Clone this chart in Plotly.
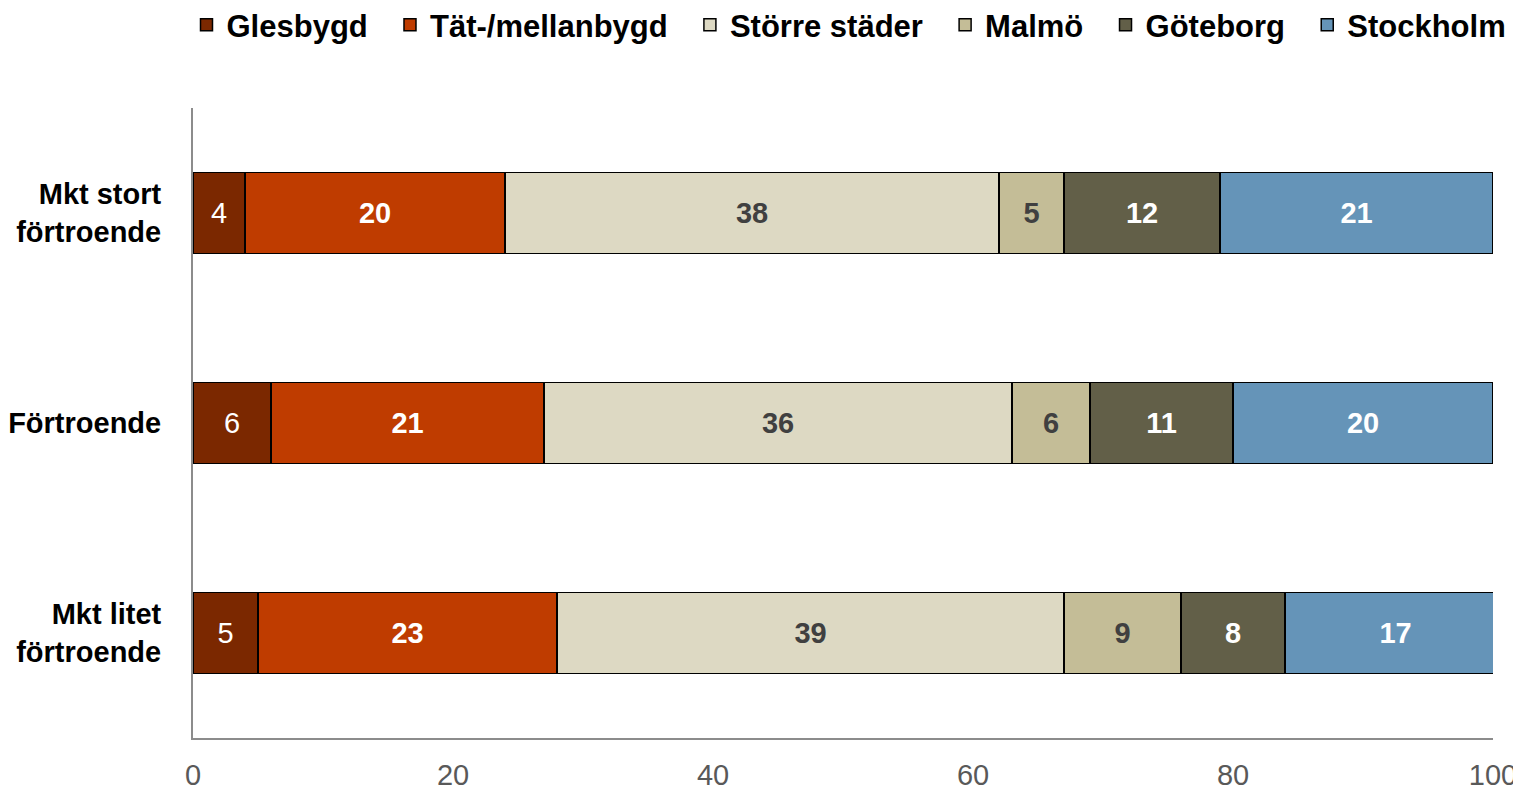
import plotly.graph_objects as go

# Data ##########################################################################
categories = ['Mkt stort<br>förtroende', 'Förtroende', 'Mkt litet<br>förtroende']

series_names = ['Glesbygd', 'Tät-/mellanbygd', 'Större städer', 'Malmö', 'Göteborg', 'Stockholm']
glesbygd = [4, 6, 5]
tat_mellanbygd = [20, 21, 23]
storre_stader = [38, 36, 39]
malmo = [5, 6, 9]
goteborg = [12, 11, 8]
stockholm = [21, 20, 17]

x_ticks = [0, 20, 40, 60, 80, 100]

# Styles ########################################################################
series_values = [glesbygd, tat_mellanbygd, storre_stader, malmo, goteborg, stockholm]
colors = ['#7b2800', '#bf3c00', '#ddd9c3', '#c4bd97', '#625f48', '#6594b8']
text_colors = ['white', 'white', '#404040', '#404040', 'white', 'white']
text_bold = [False, True, True, True, True, True]

fig = go.Figure()

for i, (name, vals, col, tcol, bold) in enumerate(zip(series_names, series_values, colors, text_colors, text_bold)):
    # a couple of trailing nbsp's widen the gap between legend entries
    legend_name = name if i == len(series_names) - 1 else name + '\u00a0\u00a0'
    fig.add_trace(go.Bar(
        y=categories,
        x=vals,
        name=legend_name,
        orientation='h',
        marker=dict(color=col, line=dict(color='black', width=1.5)),
        text=[f'<b>{v}</b>' if bold else str(v) for v in vals],
        textposition='inside',
        insidetextanchor='middle',
        textangle=0,
        textfont=dict(color=tcol, size=29, family='Liberation Sans, Arial'),
        hovertemplate=name + ': %{x}<extra></extra>',
    ))

# page body has an 8px margin, so the figure is 8px smaller than the window
fig.update_layout(
    barmode='stack',
    bargap=0.615,
    width=1513,
    height=782,
    margin=dict(l=185, r=28, t=100, b=52, autoexpand=False),
    plot_bgcolor='white',
    paper_bgcolor='white',
    font=dict(family='Liberation Sans, Arial', color='black'),
    legend=dict(
        orientation='h',
        x=-0.005, xanchor='left',
        y=1.1317, yanchor='middle',
        font=dict(size=31, family='Liberation Sans, Arial', weight='bold', color='black'),
        itemwidth=30,
        traceorder='normal',
    ),
)

fig.update_xaxes(
    range=[0, 100],
    tickvals=x_ticks,
    tickfont=dict(size=29, color='#595959'),
    showline=True,
    linecolor='#8c8c8c',
    linewidth=2,
    showgrid=False,
    zeroline=False,
    ticks='',
    ticklabelstandoff=10,
    automargin=False,
)

fig.update_yaxes(
    autorange='reversed',
    tickfont=dict(size=29, color='black', weight='bold'),
    showline=True,
    linecolor='#8c8c8c',
    linewidth=2,
    showgrid=False,
    ticks='',
    ticklabelstandoff=24,
    automargin=False,
)

fig.write_html('out.html')
